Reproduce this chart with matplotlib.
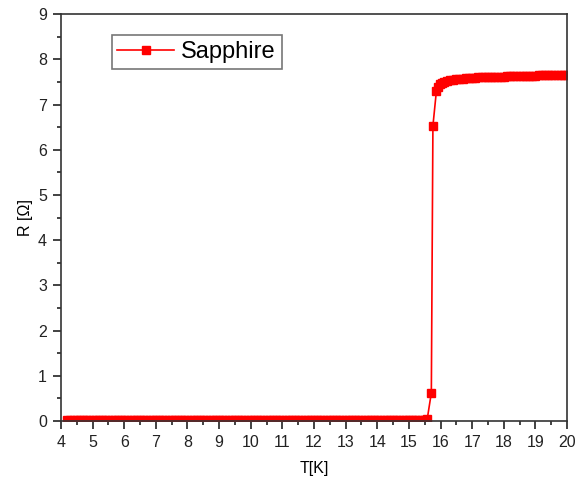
import matplotlib.pyplot as plt
from matplotlib.ticker import MultipleLocator

plt.rcParams['font.family'] = ['Liberation Sans', 'DejaVu Sans']

# temperature [K] and resistance [Ohm]
T = [4.2, 4.3, 4.4, 4.5, 4.6, 4.7, 4.8, 4.9, 5.0, 5.1, 5.2, 5.3, 5.4, 5.5,
     5.6, 5.7, 5.8, 5.9, 6.0, 6.1, 6.2, 6.3, 6.4, 6.5, 6.6, 6.7, 6.8, 6.9,
     7.0, 7.1, 7.2, 7.3, 7.4, 7.5, 7.6, 7.7, 7.8, 7.9, 8.0, 8.1, 8.2, 8.3,
     8.4, 8.5, 8.6, 8.7, 8.8, 8.9, 9.0, 9.1, 9.2, 9.3, 9.4, 9.5, 9.6, 9.7,
     9.8, 9.9, 10.0, 10.1, 10.2, 10.3, 10.4, 10.5, 10.6, 10.7, 10.8, 10.9,
     11.0, 11.1, 11.2, 11.3, 11.4, 11.5, 11.6, 11.7, 11.8, 11.9, 12.0, 12.1,
     12.2, 12.3, 12.4, 12.5, 12.6, 12.7, 12.8, 12.9, 13.0, 13.1, 13.2, 13.3,
     13.4, 13.5, 13.6, 13.7, 13.8, 13.9, 14.0, 14.1, 14.2, 14.3, 14.4, 14.5,
     14.6, 14.7, 14.8, 14.9, 15.0, 15.1, 15.2, 15.3, 15.4, 15.5, 15.58,
     15.71, 15.76, 15.87, 15.93, 15.99, 16.05, 16.12, 16.2, 16.3, 16.4,
     16.5, 16.6, 16.7, 16.8, 16.9, 17.0, 17.1, 17.2, 17.3, 17.4, 17.5,
     17.6, 17.7, 17.8, 17.9, 18.0, 18.1, 18.2, 18.3, 18.4, 18.5, 18.6,
     18.7, 18.8, 18.9, 19.0, 19.1, 19.2, 19.3, 19.4, 19.5, 19.6, 19.7,
     19.8, 19.9, 20.0]
R = [0.03, 0.03, 0.03, 0.03, 0.03, 0.03, 0.03, 0.03, 0.03, 0.03, 0.03, 0.03, 0.03, 0.03,
     0.03, 0.03, 0.03, 0.03, 0.03, 0.03, 0.03, 0.03, 0.03, 0.03, 0.03, 0.03, 0.03, 0.03,
     0.03, 0.03, 0.03, 0.03, 0.03, 0.03, 0.03, 0.03, 0.03, 0.03, 0.03, 0.03, 0.03, 0.03,
     0.03, 0.03, 0.03, 0.03, 0.03, 0.03, 0.03, 0.03, 0.03, 0.03, 0.03, 0.03, 0.03, 0.03,
     0.03, 0.03, 0.03, 0.03, 0.03, 0.03, 0.03, 0.03, 0.03, 0.03, 0.03, 0.03,
     0.03, 0.03, 0.03, 0.03, 0.03, 0.03, 0.03, 0.03, 0.03, 0.03, 0.03, 0.03,
     0.03, 0.03, 0.03, 0.03, 0.03, 0.03, 0.03, 0.03, 0.03, 0.03, 0.03, 0.03,
     0.03, 0.03, 0.03, 0.03, 0.03, 0.03, 0.03, 0.03, 0.03, 0.03, 0.03, 0.03,
     0.03, 0.03, 0.03, 0.03, 0.03, 0.03, 0.03, 0.03, 0.03, 0.03, 0.04,
     0.62, 6.53, 7.30, 7.40, 7.45, 7.48, 7.50, 7.52, 7.54, 7.55,
     7.56, 7.57, 7.57, 7.58, 7.58, 7.59, 7.59, 7.60, 7.60, 7.61, 7.61,
     7.61, 7.62, 7.62, 7.62, 7.62, 7.63, 7.63, 7.63, 7.63, 7.63, 7.64,
     7.64, 7.64, 7.64, 7.64, 7.65, 7.65, 7.65, 7.65, 7.65, 7.65, 7.65,
     7.66, 7.66, 7.66]

fig = plt.figure(figsize=(5.78, 4.9), dpi=100)
ax = fig.add_axes([0.1055, 0.141, 0.8755, 0.830])

ax.plot(T, R, color='red', marker='s', markersize=6, linewidth=1.2,
        label='Sapphire')

ax.set_xlim(4, 20)
ax.set_ylim(0, 9)
ax.xaxis.set_major_locator(MultipleLocator(1))
ax.xaxis.set_minor_locator(MultipleLocator(0.5))
ax.yaxis.set_major_locator(MultipleLocator(1))
ax.yaxis.set_minor_locator(MultipleLocator(0.5))
ax.tick_params(which='both', direction='out', top=False, right=False,
               labelsize=11.5, width=1.2, colors='#222222')
ax.tick_params(which='major', length=6, pad=4)
ax.tick_params(which='minor', length=3)
for sp in ax.spines.values():
    sp.set_linewidth(1.2)
    sp.set_color('#333333')

ax.set_xlabel('T[K]', fontsize=11.5, labelpad=8)
ax.set_ylabel('R [Ω]', fontsize=11.5, labelpad=4)

leg = ax.legend(loc='upper left', bbox_to_anchor=(0.1, 0.948), fontsize=17,
                fancybox=False, framealpha=1, edgecolor='#777777',
                borderpad=0.25, handlelength=2.4, handletextpad=0.3,
                borderaxespad=0)
leg.get_frame().set_linewidth(1.2)

fig.savefig('out.png', dpi=100)
